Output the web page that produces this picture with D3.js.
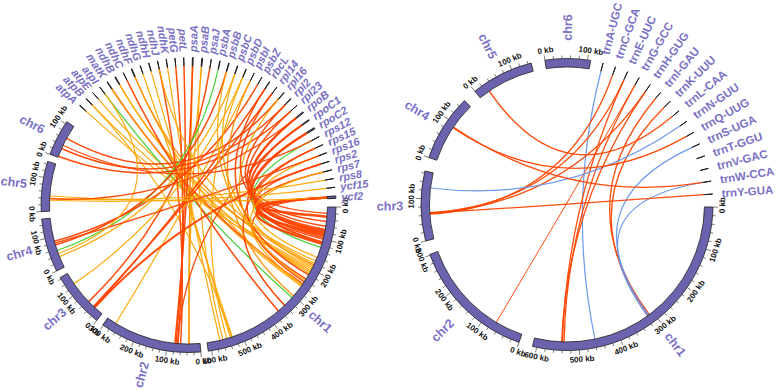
<!DOCTYPE html>
<html>
<head>
<meta charset="utf-8">
<script src="https://cdnjs.cloudflare.com/ajax/libs/d3/7.8.5/d3.min.js"></script>
<style>
  body { margin: 0; background: #fff; }
  svg { display: block; }
</style>
</head>
<body>
<div id="chart"></div>
<script>
// chromosomes (kb)
const chrNames = ["chr1", "chr2", "chr3", "chr4", "chr5", "chr6"];
const chrSizes = [610, 302, 165, 158, 148, 107];

// chloroplast genes (kb)
const ptGenes = ["atpA","atpB","atpE","atpI","matK","ndhB","ndhC","ndhF","ndhG","ndhH","ndhJ","ndhK",
  "petG","petL","psaA","psaB","psaJ","psbA","psbB","psbC","psbD","psbI","psbZ","rbcL",
  "rpl14","rpl16","rpl2","rpl23","rpoB","rpoC1","rpoC2","rps12","rps15","rps16","rps2","rps7","rps8","ycf15","ycf2"];
const ptGeneSizes = [1.5,1.5,0.4,0.75,1.5,2.2,0.36,2.2,0.53,1.18,0.48,0.68,
  0.11,0.1,2.25,2.2,0.13,1.06,1.53,1.42,1.06,0.11,0.19,1.43,
  0.37,1.4,1.5,0.28,3.2,2.7,4.2,0.8,0.27,1.0,0.7,0.47,0.4,0.2,6.9];

// tRNA genes (kb)
const trnGenes = ["trnA-UGC","trnC-GCA","trnE-UUC","trnG-GCC","trnH-GUG","trnI-GAU","trnK-UUU","trnL-CAA",
  "trnN-GUU","trnQ-UUG","trnS-UGA","trnT-GGU","trnV-GAC","trnW-CCA","trnY-GUA"];
const trnGeneSizes = trnGenes.map(() => 0.08);

// tick steps (kb)
const majorTick = 100;
const minorTick = 20;

// links: gene, chromosome, position (kb), colour, width
const ptLinks = [
  ["atpA","chr1",200,"o",1.2], ["atpB","chr1",205,"o",1.2], ["atpB","chr1",532,"o",1.2],
  ["atpE","chr1",195,"o",1.2], ["atpI","chr1",307,"g",1.2], ["matK","chr1",253,"r",1.5],
  ["matK","chr1",262,"o",1.2], ["ndhB","chr1",210,"o",1.2], ["ndhB","chr1",172,"o",1.2],
  ["ndhC","chr1",366,"r",1.5], ["ndhF","chr1",258,"o",1.2], ["ndhF","chr1",185,"d",1.3],
  ["ndhG","chr1",530,"o",1.2], ["ndhH","chr1",536,"o",1.2], ["ndhJ","chr2",60,"r",1.5],
  ["ndhK","chr1",570,"o",1.2], ["petG","chr2",68,"r",1.5], ["petL","chr2",74,"r",1.5],
  ["psaA","chr2",34,"d",1.5], ["psaA","chr2",78,"r",1.5], ["psaB","chr1",560,"o",1.2],
  ["psaB","chr2",36,"o",1.2], ["psaJ","chr3",56,"r",1.5], ["psbA","chr4",56,"g",1.2],
  ["psbB","chr4",74,"r",1.5], ["psbC","chr4",36,"o",1.2], ["psbD","chr3",127,"o",1.2],
  ["psbI","chr2",272,"o",1.2], ["psbZ","chr4",86,"r",1.5], ["rbcL","chr3",32,"r",1.5],
  ["rpl14","chr3",35,"r",1.5], ["rpl16","chr6",64,"r",1.5], ["rpl2","chr6",29,"r",1.5],
  ["rpl23","chr6",3,"r",1.5], ["rpoB","chr1",20,"r",1.3], ["rpoB","chr1",110,"r",2],
  ["rpoC1","chr1",80,"r",2], ["rpoC1","chr2",70,"r",1.3], ["rpoC2","chr1",75,"r",2.5],
  ["rpoC2","chr1",245,"r",1.5], ["rps12","chr1",127,"g",1.2], ["rps15","chr1",340,"r",1.5],
  ["rps16","chr1",160,"o",1.2], ["rps2","chr1",90,"r",1.5], ["rps7","chr1",100,"r",1.5],
  ["rps8","chr5",40,"o",1.2], ["ycf15","chr5",34,"o",1.2], ["ycf2","chr1",30,"r",2.5],
  ["ycf2","chr1",85,"r",2.5], ["ycf2","chr1",115,"r",2.5], ["ycf2","chr5",47,"o",1.2],
  ["ycf2","chr1",235,"r",1.5], ["psbC","chr1",190,"o",1.2], ["psbB","chr1",215,"o",1.2],
  ["rbcL","chr1",220,"r",1.5], ["rpl16","chr1",240,"o",1.2], ["rpl14","chr1",60,"r",1.5],
  ["rpl2","chr1",45,"r",1.5], ["rpl23","chr1",70,"r",1.5], ["rps15","chr1",95,"r",1.5],
  ["rps16","chr4",80,"r",1.3], ["rps2","chr3",30,"r",2], ["rps7","chr1",255,"o",1.2],
  ["psbD","chr1",548,"o",1.2], ["psbI","chr1",300,"d",1.3], ["ndhJ","chr1",180,"o",1.2],
  ["atpI","chr4",46,"o",1.2], ["rpoB","chr5",38,"r",1.3], ["rps12","chr6",40,"r",1.3]
];

const trnLinks = [
  ["trnA-UGC","chr1",459,"b",1.2], ["trnC-GCA","chr3",62,"r",1.3], ["trnE-UUC","chr1",540,"r",1.3],
  ["trnE-UUC","chr3",66,"r",1.3], ["trnG-GCC","chr2",70,"r",1], ["trnG-GCC","chr1",536,"r",1.3],
  ["trnH-GUG","chr3",64,"r",1.3], ["trnI-GAU","chr1",310,"r",1.3], ["trnK-UUU","chr1",314,"r",1.3],
  ["trnL-CAA","chr5",28,"r",1.3], ["trnN-GUU","chr3",127,"b",1.2], ["trnQ-UUG","chr4",90,"r",1.3],
  ["trnS-UGA","chr1",312,"b",1.2], ["trnW-CCA","chr1",316,"b",1.2], ["trnW-CCA","chr4",92,"r",1.3],
  ["trnY-GUA","chr3",65,"r",1.3], ["trnH-GUG","chr1",542,"r",1.3]
];

const linkColors = {r: "#ff4500", o: "#ffa500", d: "#ff8c00", g: "#3ccc2c", b: "#6495ed"};

const width = 777, height = 390;
const svg = d3.select("#chart").append("svg")
  .attr("width", width)
  .attr("height", height)
  .style("font-family", "Arial, 'Liberation Sans', Helvetica, sans-serif");

const rad = a => a * Math.PI / 180;
const pt = (r, a) => [r * Math.sin(rad(a)), -r * Math.cos(rad(a))];
const norm = a => ((a % 360) + 360) % 360;

function drawCircos(opt) {
  const items = chrNames.map((n, i) => ({name: n, size: chrSizes[i], chr: true}))
    .concat(opt.genes.map((n, i) => ({name: n, size: opt.geneSizes[i], chr: false})));

  // gaps after each item (degrees)
  const gaps = items.map((d, i) => {
    if (i < 5) return opt.chrGap;
    if (i === 5) return opt.firstGeneGap;
    return opt.geneGap;
  });
  const degPerKb = (360 - d3.sum(gaps)) / d3.sum(items, d => d.size);
  let a = opt.start;
  items.forEach((d, i) => {
    d.a0 = a;
    d.a1 = a + d.size * degPerKb;
    d.scale = d3.scaleLinear().domain([0, d.size]).range([d.a0, d.a1]);
    a = d.a1 + gaps[i];
  });
  const byName = new Map(items.map(d => [d.name, d]));

  const g = svg.append("g").attr("transform", `translate(${opt.cx},${opt.cy})`);

  // links (quadratic bezier through the centre)
  g.selectAll(".link")
    .data(opt.links)
    .enter()
    .append("path")
      .attr("class", "link")
      .attr("d", d => {
        const gene = byName.get(d[0]);
        const p0 = pt(opt.rIn, (gene.a0 + gene.a1) / 2);
        const p1 = pt(opt.rIn, byName.get(d[1]).scale(d[2]));
        return `M${p0[0]},${p0[1]} Q0,0 ${p1[0]},${p1[1]}`;
      })
      .attr("fill", "none")
      .attr("stroke", d => linkColors[d[3]])
      .attr("stroke-width", d => d[4])
      .attr("stroke-opacity", 0.95);

  // ideogram blocks
  const arc = d3.arc().innerRadius(opt.rIn).outerRadius(opt.rOut);
  g.selectAll(".block")
    .data(items)
    .enter()
    .append("path")
      .attr("class", "block")
      .attr("d", d => arc({startAngle: rad(d.a0), endAngle: rad(d.a1)}))
      .attr("fill", "#6b63ae")
      .attr("stroke", "#1e1e1e")
      .attr("stroke-width", d => d.chr ? 0.8 : 1);

  // ticks
  const ticks = [];
  items.filter(d => d.chr).forEach(d => {
    for (let kb = 0; kb <= d.size; kb += minorTick) {
      ticks.push({chr: d, kb: kb, major: kb % majorTick === 0});
    }
  });
  g.selectAll(".tick")
    .data(ticks)
    .enter()
    .append("line")
      .attr("x1", d => pt(opt.rOut, d.chr.scale(d.kb))[0])
      .attr("y1", d => pt(opt.rOut, d.chr.scale(d.kb))[1])
      .attr("x2", d => pt(opt.rOut + (d.major ? 5 : 3), d.chr.scale(d.kb))[0])
      .attr("y2", d => pt(opt.rOut + (d.major ? 5 : 3), d.chr.scale(d.kb))[1])
      .attr("stroke", "#444")
      .attr("stroke-width", 0.7);

  g.selectAll(".ticklab")
    .data(ticks.filter(d => d.major))
    .enter()
    .append("text")
      .attr("transform", d => {
        const an = d.chr.scale(d.kb);
        let rot = norm(an) - 180;
        if (rot > 90) rot -= 180;
        if (rot < -90) rot += 180;
        const p = pt(opt.rOut + 9.5, an);
        return `translate(${p[0]},${p[1]}) rotate(${rot})`;
      })
      .attr("x", 2)
      .attr("text-anchor", "middle")
      .attr("dominant-baseline", "central")
      .style("font-size", "8px")
      .style("font-weight", "bold")
      .style("fill", "#111")
      .text(d => `${d.kb} kb`);

  // chromosome names
  g.selectAll(".chrlab")
    .data(items.filter(d => d.chr))
    .enter()
    .append("text")
      .attr("transform", d => {
        const an = norm((d.a0 + d.a1) / 2);
        const p = pt(opt.chrLabelR, an);
        const rot = an < 180 ? an - 90 : an + 90;
        return `translate(${p[0]},${p[1]}) rotate(${rot})`;
      })
      .attr("text-anchor", "middle")
      .attr("dominant-baseline", "central")
      .style("font-size", "12.5px")
      .style("font-weight", "bold")
      .style("fill", "#7a70c4")
      .text(d => d.name);

  // gene names
  g.selectAll(".genelab")
    .data(items.filter(d => !d.chr))
    .enter()
    .append("text")
      .attr("transform", d => {
        const an = norm((d.a0 + d.a1) / 2);
        const p = pt(opt.geneLabelR, an);
        const rot = an < 180 ? an - 90 : an + 90;
        return `translate(${p[0]},${p[1]}) rotate(${rot})`;
      })
      .attr("text-anchor", d => norm((d.a0 + d.a1) / 2) < 180 ? "start" : "end")
      .attr("dominant-baseline", "central")
      .style("font-size", opt.geneFont)
      .style("font-style", opt.italic ? "italic" : "normal")
      .style("font-weight", "bold")
      .style("fill", "#7a70c4")
      .text(d => d.name);
}

// left: chloroplast protein genes
drawCircos({
  cx: 188.5, cy: 205, rOut: 147.5, rIn: 139, start: 90.8,
  chrGap: 2.9, firstGeneGap: 8, geneGap: 3.38,
  genes: ptGenes, geneSizes: ptGeneSizes, links: ptLinks,
  chrLabelR: 176, geneLabelR: 153, geneFont: "11px", italic: true
});

// right: tRNA genes
drawCircos({
  cx: 567, cy: 204.5, rOut: 146, rIn: 137.5, start: 91,
  chrGap: 5.5, firstGeneGap: 5, geneGap: 5.1,
  genes: trnGenes, geneSizes: trnGeneSizes, links: trnLinks,
  chrLabelR: 177, geneLabelR: 155, geneFont: "11.5px", italic: false
});
</script>
</body>
</html>
